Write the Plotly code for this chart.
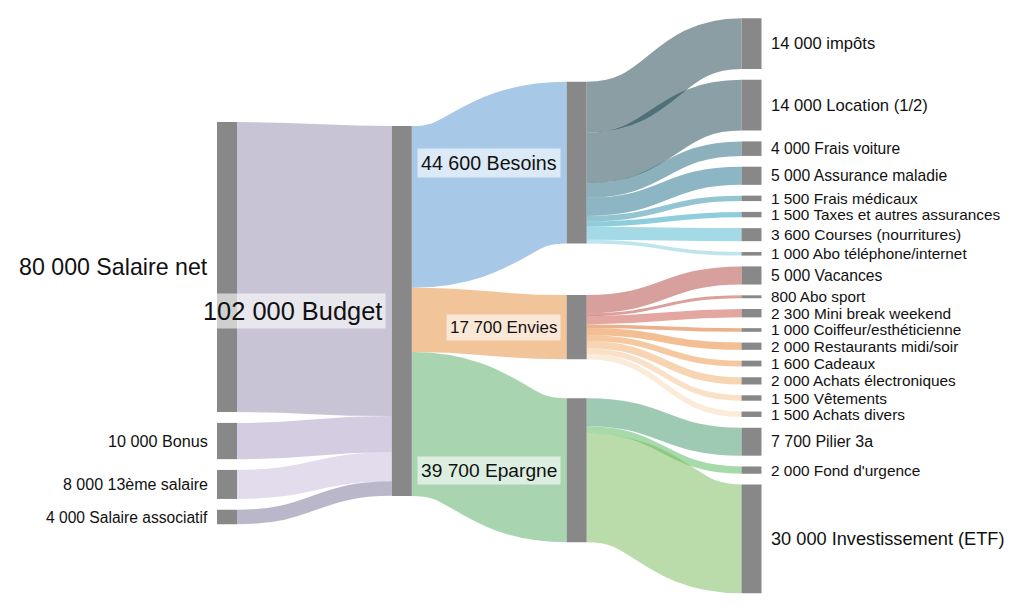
import plotly.graph_objects as go

# ---------------- data ----------------
source_labels = ["Salaire net", "Bonus", "13ème salaire", "Salaire associatif"]
source_values = [80000, 10000, 8000, 4000]

budget_label = "Budget"

category_labels = ["Besoins", "Envies", "Epargne"]

besoins_labels = ["impôts", "Location (1/2)", "Frais voiture", "Assurance maladie",
                  "Frais médicaux", "Taxes et autres assurances",
                  "Courses (nourritures)", "Abo téléphone/internet"]
besoins_values = [14000, 14000, 4000, 5000, 1500, 1500, 3600, 1000]

envies_labels = ["Vacances", "Abo sport", "Mini break weekend", "Coiffeur/esthéticienne",
                 "Restaurants midi/soir", "Cadeaux", "Achats électroniques",
                 "Vêtements", "Achats divers"]
envies_values = [5000, 800, 2300, 1000, 2000, 1600, 2000, 1500, 1500]

epargne_labels = ["Pilier 3a", "Fond d'urgence", "Investissement (ETF)"]
epargne_values = [7700, 2000, 30000]

# ---------------- style ----------------
source_link_colors = ["#c9c4d5", "#d4cce0", "#e2dced", "#bbb7cb"]
category_link_colors = ["#a8c8e8", "#f2c49a", "#a8d5b0"]
besoins_link_colors = ["#8a9ea3", "#8aa0a6", "#8cb0bc", "#8cb6c4",
                       "#92c4d2", "#8ecedc", "#a3dae6", "#bee4ee"]
envies_link_colors = ["#d8a09c", "#dca09b", "#e4a6a0", "#ecb08c", "#f2be92",
                      "#f5c8a0", "#f7d4b2", "#f9e0c6", "#fbebd9"]
epargne_link_colors = ["#9ecab4", "#a6daaa", "#badbaa"]
NODE_COLOR = "#888888"
TEXT_COLOR = "#111111"
FONT = "Liberation Sans, Arial, sans-serif"

W, H = 1024, 614
TOP, BOTTOM = 18.3, 593.3
PAD = 10.8
NODE_W = 20
LEFT_X, RIGHT_X = 217.0, 761.5
BUDGET_ALIGN = 0.509       # vertical alignment of the middle column within the extent
LINK_ALPHA = 0.5
LABEL_GAP = 8.5


def fmt(v):
    return f"{v:,}".replace(",", " ")


def font_size(v):
    return 15.2 + v / 10000.0


def rgba(hexcol, a=LINK_ALPHA):
    h = hexcol.lstrip("#")
    c = [int(h[i:i + 2], 16) for i in (0, 2, 4)]
    base = [max(0, min(255, round((x - (1 - a) * 255) / a))) for x in c]
    return f"rgba({base[0]},{base[1]},{base[2]},{a})"


children_labels = [besoins_labels, envies_labels, epargne_labels]
children_values = [besoins_values, envies_values, epargne_values]
children_colors = [besoins_link_colors, envies_link_colors, epargne_link_colors]
category_values = [sum(v) for v in children_values]
budget_value = sum(source_values)

# ---------------- layout computation ----------------
step = (RIGHT_X - NODE_W - LEFT_X) / 3.0
col_x = [LEFT_X + i * step for i in range(4)]

# last column: stacked over the full extent -> defines the scale
leaf_values = [v for vals in children_values for v in vals]
scale = (BOTTOM - TOP - PAD * (len(leaf_values) - 1)) / sum(leaf_values)

leaf_tops = []
y = TOP
for v in leaf_values:
    leaf_tops.append(y)
    y += v * scale + PAD
leaf_pos = []
k = 0
for vals in children_values:
    group = []
    for v in vals:
        group.append((leaf_tops[k], leaf_tops[k] + v * scale))
        k += 1
    leaf_pos.append(group)

# budget node
b_h = budget_value * scale
b_center = TOP + BUDGET_ALIGN * (BOTTOM - TOP)
b_top = b_center - b_h / 2

# category nodes: between their band on budget and their children
cat_pos = []
band_out = []
y = b_top
for ci, cv in enumerate(category_values):
    band = (y, y + cv * scale)
    band_out.append(band)
    y += cv * scale
    left_c = (band[0] + band[1]) / 2
    right_c = sum(v * (p[0] + p[1]) / 2 for v, p in zip(children_values[ci], leaf_pos[ci])) / cv
    c = (left_c + right_c) / 2
    cat_pos.append((c - cv * scale / 2, c + cv * scale / 2))

# source nodes: stacked, weighted-centred on their bands in budget
band_in = []
y = b_top
for v in source_values:
    band_in.append((y, y + v * scale))
    y += v * scale
offs = []
y = 0
for v in source_values:
    offs.append(y)
    y += v * scale + PAD
band_c = sum(v * (b[0] + b[1]) / 2 for v, b in zip(source_values, band_in)) / budget_value
off_c = sum(v * (o + v * scale / 2) for v, o in zip(source_values, offs)) / budget_value
s_top = band_c - off_c
src_pos = [(s_top + o, s_top + o + v * scale) for v, o in zip(source_values, offs)]


# ---------------- drawing ----------------
def link_path(x0, y0, x1, y1):
    xm = (x0 + x1) / 2
    return f"M {x0:.2f},{y0:.2f} C {xm:.2f},{y0:.2f} {xm:.2f},{y1:.2f} {x1:.2f},{y1:.2f}"


shapes = []


def add_link(x0, y0, x1, y1, value, color):
    shapes.append(dict(type="path", xref="x", yref="y",
                       path=link_path(x0, y0, x1, y1),
                       line=dict(color=rgba(color), width=value * scale)))


def add_node(x, top, bottom):
    shapes.append(dict(type="rect", xref="x", yref="y", x0=x, x1=x + NODE_W,
                       y0=top, y1=bottom, fillcolor=NODE_COLOR, line=dict(width=0)))


# links source -> budget
for v, sp, bi, col in zip(source_values, src_pos, band_in, source_link_colors):
    add_link(col_x[0] + NODE_W, (sp[0] + sp[1]) / 2, col_x[1], (bi[0] + bi[1]) / 2, v, col)
# links budget -> categories
for v, bo, cp, col in zip(category_values, band_out, cat_pos, category_link_colors):
    add_link(col_x[1] + NODE_W, (bo[0] + bo[1]) / 2, col_x[2], (cp[0] + cp[1]) / 2, v, col)
# links categories -> leaves
for ci in range(3):
    y = cat_pos[ci][0]
    for v, lp, col in zip(children_values[ci], leaf_pos[ci], children_colors[ci]):
        add_link(col_x[2] + NODE_W, y + v * scale / 2, col_x[3], (lp[0] + lp[1]) / 2, v, col)
        y += v * scale

# nodes
for sp in src_pos:
    add_node(col_x[0], *sp)
add_node(col_x[1], b_top, b_top + b_h)
for cp in cat_pos:
    add_node(col_x[2], *cp)
for group in leaf_pos:
    for lp in group:
        add_node(col_x[3], *lp)

annotations = []


def add_label(x, yc, text, value, anchor, bg=False):
    pad = 3 if bg else 0
    annotations.append(dict(
        x=x + (pad if anchor == "right" else -pad), y=yc, xref="x", yref="y",
        text=text, showarrow=False, xanchor=anchor, yanchor="middle",
        font=dict(family=FONT, size=font_size(value), color=TEXT_COLOR),
        bgcolor="rgba(255,255,255,0.6)" if bg else None, borderpad=pad))


for lab, v, sp in zip(source_labels, source_values, src_pos):
    add_label(col_x[0] - LABEL_GAP, (sp[0] + sp[1]) / 2, f"{fmt(v)} {lab}", v, "right")
add_label(col_x[1] - LABEL_GAP, b_top + b_h / 2, f"{fmt(budget_value)} {budget_label}",
          budget_value, "right", bg=True)
for lab, v, cp in zip(category_labels, category_values, cat_pos):
    add_label(col_x[2] - LABEL_GAP, (cp[0] + cp[1]) / 2, f"{fmt(v)} {lab}", v, "right", bg=True)
for ci in range(3):
    for lab, v, lp in zip(children_labels[ci], children_values[ci], leaf_pos[ci]):
        add_label(col_x[3] + NODE_W + LABEL_GAP, (lp[0] + lp[1]) / 2, f"{fmt(v)} {lab}", v, "left")

fig = go.Figure(go.Scatter(x=[], y=[], hoverinfo="skip", showlegend=False))
fig.update_layout(
    width=W, height=H, margin=dict(l=0, r=0, t=0, b=0),
    paper_bgcolor="white", plot_bgcolor="white",
    xaxis=dict(range=[0, W], visible=False, fixedrange=True),
    yaxis=dict(range=[H, 0], visible=False, fixedrange=True),
    shapes=shapes, annotations=annotations, showlegend=False, hovermode=False,
)
fig.write_html("out.html")
